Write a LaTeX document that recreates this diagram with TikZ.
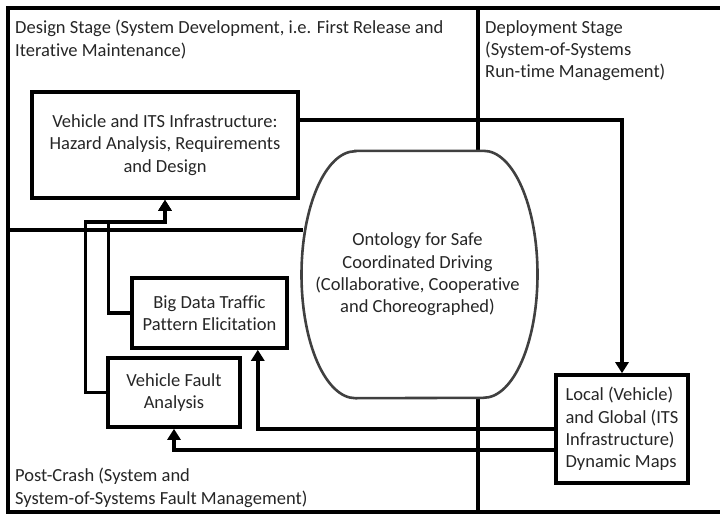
\documentclass[tikz,border=0pt]{standalone}
\usepackage{fontspec}
\setmainfont{Carlito}[Ligatures=NoCommon]
\usepackage{tikz}
\usetikzlibrary{calc,positioning,arrows.meta}
\tikzstyle{frameline} = [line width=3.4pt, line cap=rect]
\tikzstyle{block}     = [draw, line width=3.6pt, rectangle, align=center, inner sep=0pt, text=black!85]
\tikzstyle{label}     = [align=left, inner sep=0pt, anchor=north west, text=black!85]
\tikzstyle{ontoline}  = [line width=2.6pt, draw=black!75, fill=white]
\tikzstyle{arrow}     = [line width=3.4pt, -{Triangle[length=11pt,width=13pt]}]

\begin{document}
\begin{tikzpicture}[x=1pt, y=1pt, font=\fontsize{18.5}{22.3}\selectfont]
		\useasboundingbox (0,0) rectangle (720,-514);
		\clip (0,0) rectangle (720,-514);

		% outer frame and stage dividers
		\coordinate (vtop) at (478,-8);
		\coordinate (vbot) at (478,-512);
		\coordinate (hleft) at (8,-230);
		\draw[frameline] (730,-8) -- (8,-8) -- (8,-512) -- (730,-512);

		\node (onto) [minimum width=237pt, minimum height=247pt, inner sep=0pt, align=center, text=black!85] at (419.5,-274.5) {};
		\draw[frameline] (vtop) -- (vtop |- onto.north);
		\draw[frameline] (vbot |- onto.south) -- (vbot);
		\draw[frameline] (hleft) -- (hleft -| onto.west);

		% ontology
		\draw[ontoline] ([xshift=-64]onto.north) -- ([xshift=64]onto.north)
			arc[start angle=90, end angle=-90, x radius=54, y radius=123.5]
			-- ([xshift=-64]onto.south)
			arc[start angle=270, end angle=90, x radius=54, y radius=123.5] -- cycle;
		\node[align=center, text=black!85] at ([xshift=-2]onto) {Ontology for Safe\\Coordinated Driving\\(Collaborative, Cooperative\\and Choreographed)};

		% stage labels
		\node[label] (design label) at (15,-20) {Design Stage (System Development, i.e. First Release and\\Iterative Maintenance)};
		\node[label] (deploy label) at (485,-20) {Deployment Stage\\(System-of-Systems\\Run-time Management)};
		\node[label] (crash label) at (15,-468) {Post-Crash (System and\\System-of-Systems Fault Management)};

		% blocks
		\node[block, minimum width=266pt, minimum height=106pt] (design) at (165,-145) {Vehicle and ITS Infrastructure:\\Hazard Analysis, Requirements\\and Design};
		\node[block, minimum width=155pt, minimum height=70pt] (bigdata) at (209.5,-313) {Big Data Traffic\\Pattern Elicitation};
		\node[block, minimum width=132pt, minimum height=69pt] (fault) at (174,-392.5) {Vehicle Fault\\Analysis};
		\node[block, minimum width=132pt, minimum height=108pt, align=left] (maps) at (622,-429) {Local (Vehicle)\\and Global (ITS\\Infrastructure)\\Dynamic Maps};

		% connectors
		\draw[arrow] ([yshift=25]design.east) -| (maps.north);
		\draw[arrow] (bigdata.west) -- ++(-22,0) |- ([yshift=-22]design.south) -- (design.south);
		\draw[arrow] (fault.west) -- ++(-21,0) |- ([yshift=-22]design.south) -- (design.south);
		\draw[arrow] (maps.west) -| ([xshift=-31]bigdata.south east);
		\draw[arrow] ([yshift=-21]maps.west) -| (fault.south);
	\end{tikzpicture}
\end{document}
